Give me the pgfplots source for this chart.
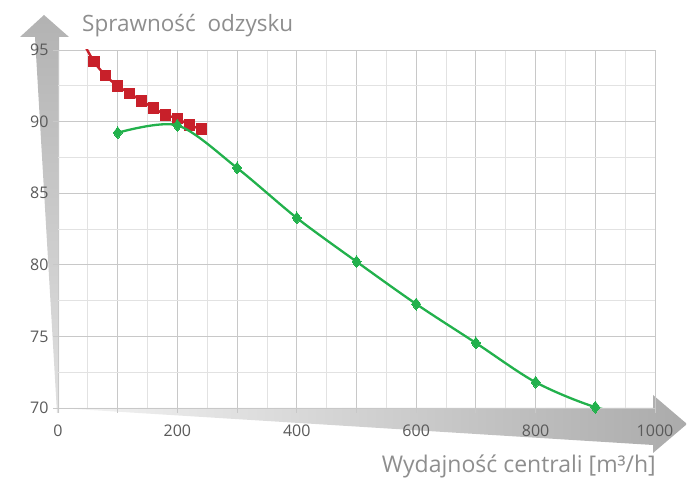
\documentclass[border=0pt]{standalone}
\usepackage{fontspec}
\setmainfont{Open Sans}
\usepackage{pgfplots}
\pgfplotsset{compat=1.18}
\definecolor{redc}{HTML}{C8202A}
\definecolor{greenc}{HTML}{22B14C}
\definecolor{tickc}{HTML}{5A5A5A}
\definecolor{labc}{HTML}{8E8E8E}
\definecolor{majg}{HTML}{C8C8C8}
\definecolor{ming}{HTML}{E2E2E2}
\begin{document}
\begin{tikzpicture}
\useasboundingbox (0pt,0pt) rectangle (687pt,478pt);
% left arrow
\shade[top color=black!30, bottom color=black!12]
  (57pt,65pt) -- (59pt,65pt) -- (59pt,441pt) -- (69pt,441pt) -- (44pt,463pt) -- (20pt,441pt) -- (35pt,441pt) -- cycle;
% bottom arrow
\shade[left color=black!4, right color=black!33]
  (58pt,70pt) -- (653pt,70pt) -- (653pt,83pt) -- (687pt,54pt) -- (653pt,25pt) -- (653pt,33pt) -- cycle;
\begin{axis}[
  at={(58pt,70pt)}, anchor=south west,
  scale only axis, width=597pt, height=358pt,
  xmin=0, xmax=1000, ymin=70, ymax=95,
  axis lines*=left,
  axis line style={draw=none},
  xtick={0,100,...,1000},
  xticklabels={0,,200,,400,,600,,800,,1000},
  minor xtick={50,150,...,950},
  ytick={70,75,...,95},
  minor ytick={72.5,77.5,82.5,87.5,92.5},
  grid=both,
  major grid style={majg, line width=0.9pt},
  minor grid style={ming, line width=0.9pt},
  tick align=outside,
  major tick length=5pt,
  minor tick length=0pt,
  tick style={majg, line width=0.9pt},
  /pgf/number format/assume math mode=true,
  tick label style={font=\fontsize{16}{18}\selectfont, text=tickc},
  xticklabel style={yshift=-8pt},
  yticklabel style={xshift=-1pt},
  clip mode=individual,
]
% red line (continues above the plot area) and its marks
\addplot[redc, line width=2.4pt, smooth, mark=none]
  coordinates {(40,95.7) (60,94.2) (80,93.2) (100,92.48) (120,91.98) (140,91.45)
   (160,90.95) (180,90.47) (200,90.22) (220,89.76) (240,89.48)};
\addplot[only marks, mark=square*, mark size=5.2pt,
  mark options={fill=redc, draw=redc, line width=0pt}]
  coordinates {(60,94.2) (80,93.2) (100,92.48) (120,91.98) (140,91.45)
   (160,90.95) (180,90.47) (200,90.22) (220,89.76) (240,89.48)};
% green line and its marks
\addplot[greenc, line width=2.3pt, smooth, mark=none]
  coordinates {(100,89.22) (200,89.74) (300,86.76) (400,83.27) (500,80.22)
   (600,77.26) (700,74.54) (800,71.8) (900,70.06) (1000,69.2)};
\addplot[only marks, mark=diamond*, mark size=6pt,
  mark options={fill=greenc, draw=greenc, line width=0pt}]
  coordinates {(100,89.22) (200,89.74) (300,86.76) (400,83.27) (500,80.22)
   (600,77.26) (700,74.54) (800,71.8) (900,70.06)};
\end{axis}
\node[anchor=base west, text=labc, font=\fontsize{22.5}{26}\selectfont, inner sep=0pt]
  at (82pt,446pt) {Sprawność\ \ odzysku};
\node[anchor=base east, text=labc, font=\fontsize{23}{26}\selectfont, inner sep=0pt]
  at (656pt,5pt) {Wydajność centrali [m³/h]};
\end{tikzpicture}
\end{document}
